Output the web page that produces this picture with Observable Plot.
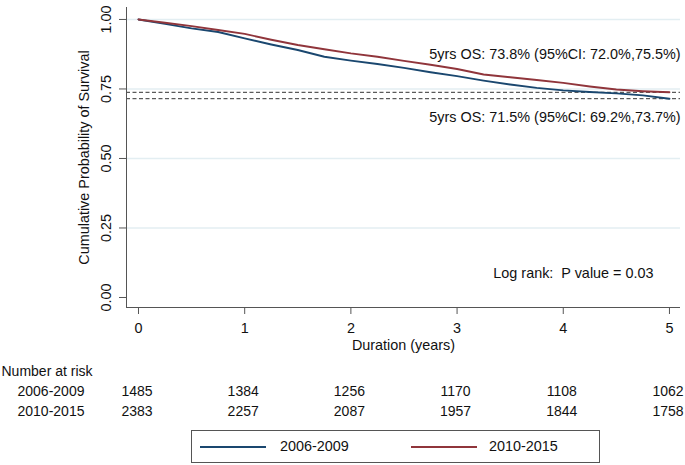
<!DOCTYPE html>
<html><head><meta charset="utf-8">
<script src="https://cdn.jsdelivr.net/npm/d3@7"></script>
<script src="https://cdn.jsdelivr.net/npm/@observablehq/plot@0.6"></script>
<style>
body{margin:0;background:#fff;font-family:"Liberation Sans",Arial,sans-serif;color:#111;}
#chart{width:685px;height:465px;position:relative;overflow:hidden;}
svg{display:block;overflow:visible}
#legend{position:relative;margin-left:191px;margin-top:2px;width:407px;height:31px;border:1px solid #555;font-size:14.4px;}
.sw{position:absolute;top:15px;height:2px;width:66px;}
.lt{position:absolute;top:7px;}
</style></head><body><div id="chart"></div>
<script>
// ---- data ----
const times    = [0, 0.25, 0.5, 0.75, 1, 1.25, 1.5, 1.75, 2, 2.25, 2.5, 2.75, 3, 3.25, 3.5, 3.75, 4, 4.25, 4.5, 4.75, 5];
const surv2006 = [1.000, 0.984, 0.968, 0.955, 0.932, 0.910, 0.890, 0.866, 0.852, 0.840, 0.826, 0.810, 0.796, 0.780, 0.766, 0.754, 0.745, 0.739, 0.734, 0.727, 0.715];
const surv2010 = [1.000, 0.988, 0.976, 0.962, 0.948, 0.927, 0.908, 0.893, 0.878, 0.866, 0.851, 0.837, 0.822, 0.802, 0.792, 0.782, 0.772, 0.759, 0.748, 0.742, 0.738];
const groups = ["2006-2009", "2010-2015"];
const colors = ["#1a476f", "#90353b"];
const yTicks = [0, 0.25, 0.5, 0.75, 1];
const xTicks = [0, 1, 2, 3, 4, 5];
const os5 = [0.715, 0.738];
const osLabels = ["5yrs OS: 71.5% (95%CI: 69.2%,73.7%)", "5yrs OS: 73.8% (95%CI: 72.0%,75.5%)"];
const pLabel = "Log rank:  P value = 0.03";
const riskHeader = "Number at risk";
const riskTimes = [0, 1, 2, 3, 4, 5];
const risk2006 = [1485, 1384, 1256, 1170, 1108, 1062];
const risk2010 = [2383, 2257, 2087, 1957, 1844, 1758];
const xTitle = "Duration (years)";
const yTitle = "Cumulative Probability of Survival";

// ---- build ----
const survs = [surv2006, surv2010];
const curves = groups.flatMap((g, i) => times.map((t, j) => ({g, t, s: survs[i][j]})));
const xDomain = [-0.113, 5.104];
const yDomain = [-0.036, 1.043];
const W = 685, mL = 126, mR = 5;
const fs = "14.4px";
const style = {fontFamily: '"Liberation Sans", Arial, sans-serif', fontSize: fs, color: "#111", background: "#fff", overflow: "visible"};

const main = Plot.plot({
  width: W, height: 355, marginLeft: mL, marginRight: mR, marginTop: 7, marginBottom: 48,
  style,
  x: {domain: xDomain},
  y: {domain: yDomain},
  color: {domain: groups, range: colors},
  marks: [
    Plot.ruleY(yTicks.filter(d => d > 0), {stroke: "#e3eef2", strokeWidth: 1.5}),
    Plot.ruleY(os5, {stroke: "#333", strokeDasharray: "4,2.5", strokeWidth: 1}),
    Plot.line(curves, {x: "t", y: "s", stroke: "g", strokeWidth: 1.9}),
    Plot.ruleX([xDomain[0]], {stroke: "#555"}),
    Plot.ruleY([yDomain[0]], {stroke: "#555"}),
    Plot.axisY({ticks: yTicks, tickFormat: d3.format(".2f"), tickSize: 7, tickPadding: 9, tickRotate: -90, label: null, stroke: "#555"}),
    Plot.axisX({ticks: xTicks, tickFormat: d3.format("d"), tickSize: 7, tickPadding: 8, label: null, stroke: "#555"}),
    Plot.text([xTitle], {text: d => d, frameAnchor: "bottom", dy: 38, lineAnchor: "middle"}),
    Plot.text([yTitle], {text: d => d, frameAnchor: "left", dx: -38, rotate: -90, textAnchor: "middle", lineAnchor: "bottom"}),
    Plot.text([{y: os5[1], label: osLabels[1]}], {y: "y", text: "label", frameAnchor: "right", textAnchor: "end", dy: -38}),
    Plot.text([{y: os5[0], label: osLabels[0]}], {y: "y", text: "label", frameAnchor: "right", textAnchor: "end", dy: 19}),
    Plot.text([pLabel], {text: d => d, frameAnchor: "bottom-right", dx: -27, dy: -34, textAnchor: "end", lineAnchor: "middle"})
  ]
});

const riskRows = riskTimes.flatMap((t, j) => [
  {t, row: groups[0], n: risk2006[j]},
  {t, row: groups[1], n: risk2010[j]}
]);
const table = Plot.plot({
  width: W, height: 73, marginLeft: mL, marginRight: mR, marginTop: 0, marginBottom: 0,
  style: {...style, fontSize: "14px"},
  x: {domain: xDomain, axis: null},
  y: {type: "point", domain: [riskHeader, ...groups], range: [15, 56], padding: 0, axis: null},
  marks: [
    Plot.text(riskRows, {x: "t", y: "row", text: d => String(d.n), dx: -1.5}),
    Plot.text(groups, {y: d => d, text: d => d, frameAnchor: "left", dx: -109, textAnchor: "start"}),
    Plot.text([riskHeader], {y: d => d, text: d => d, frameAnchor: "left", dx: -125, textAnchor: "start"})
  ]
});

const chart = document.getElementById("chart");
chart.append(main, table);
const legend = document.createElement("div");
legend.id = "legend";
const swL = [8, 219], txL = [88, 297];
groups.forEach((g, i) => {
  const sw = document.createElement("div");
  sw.className = "sw"; sw.style.left = swL[i] + "px"; sw.style.background = colors[i];
  const tx = document.createElement("div");
  tx.className = "lt"; tx.style.left = txL[i] + "px"; tx.textContent = g;
  legend.append(sw, tx);
});
chart.append(legend);
</script></body></html>
